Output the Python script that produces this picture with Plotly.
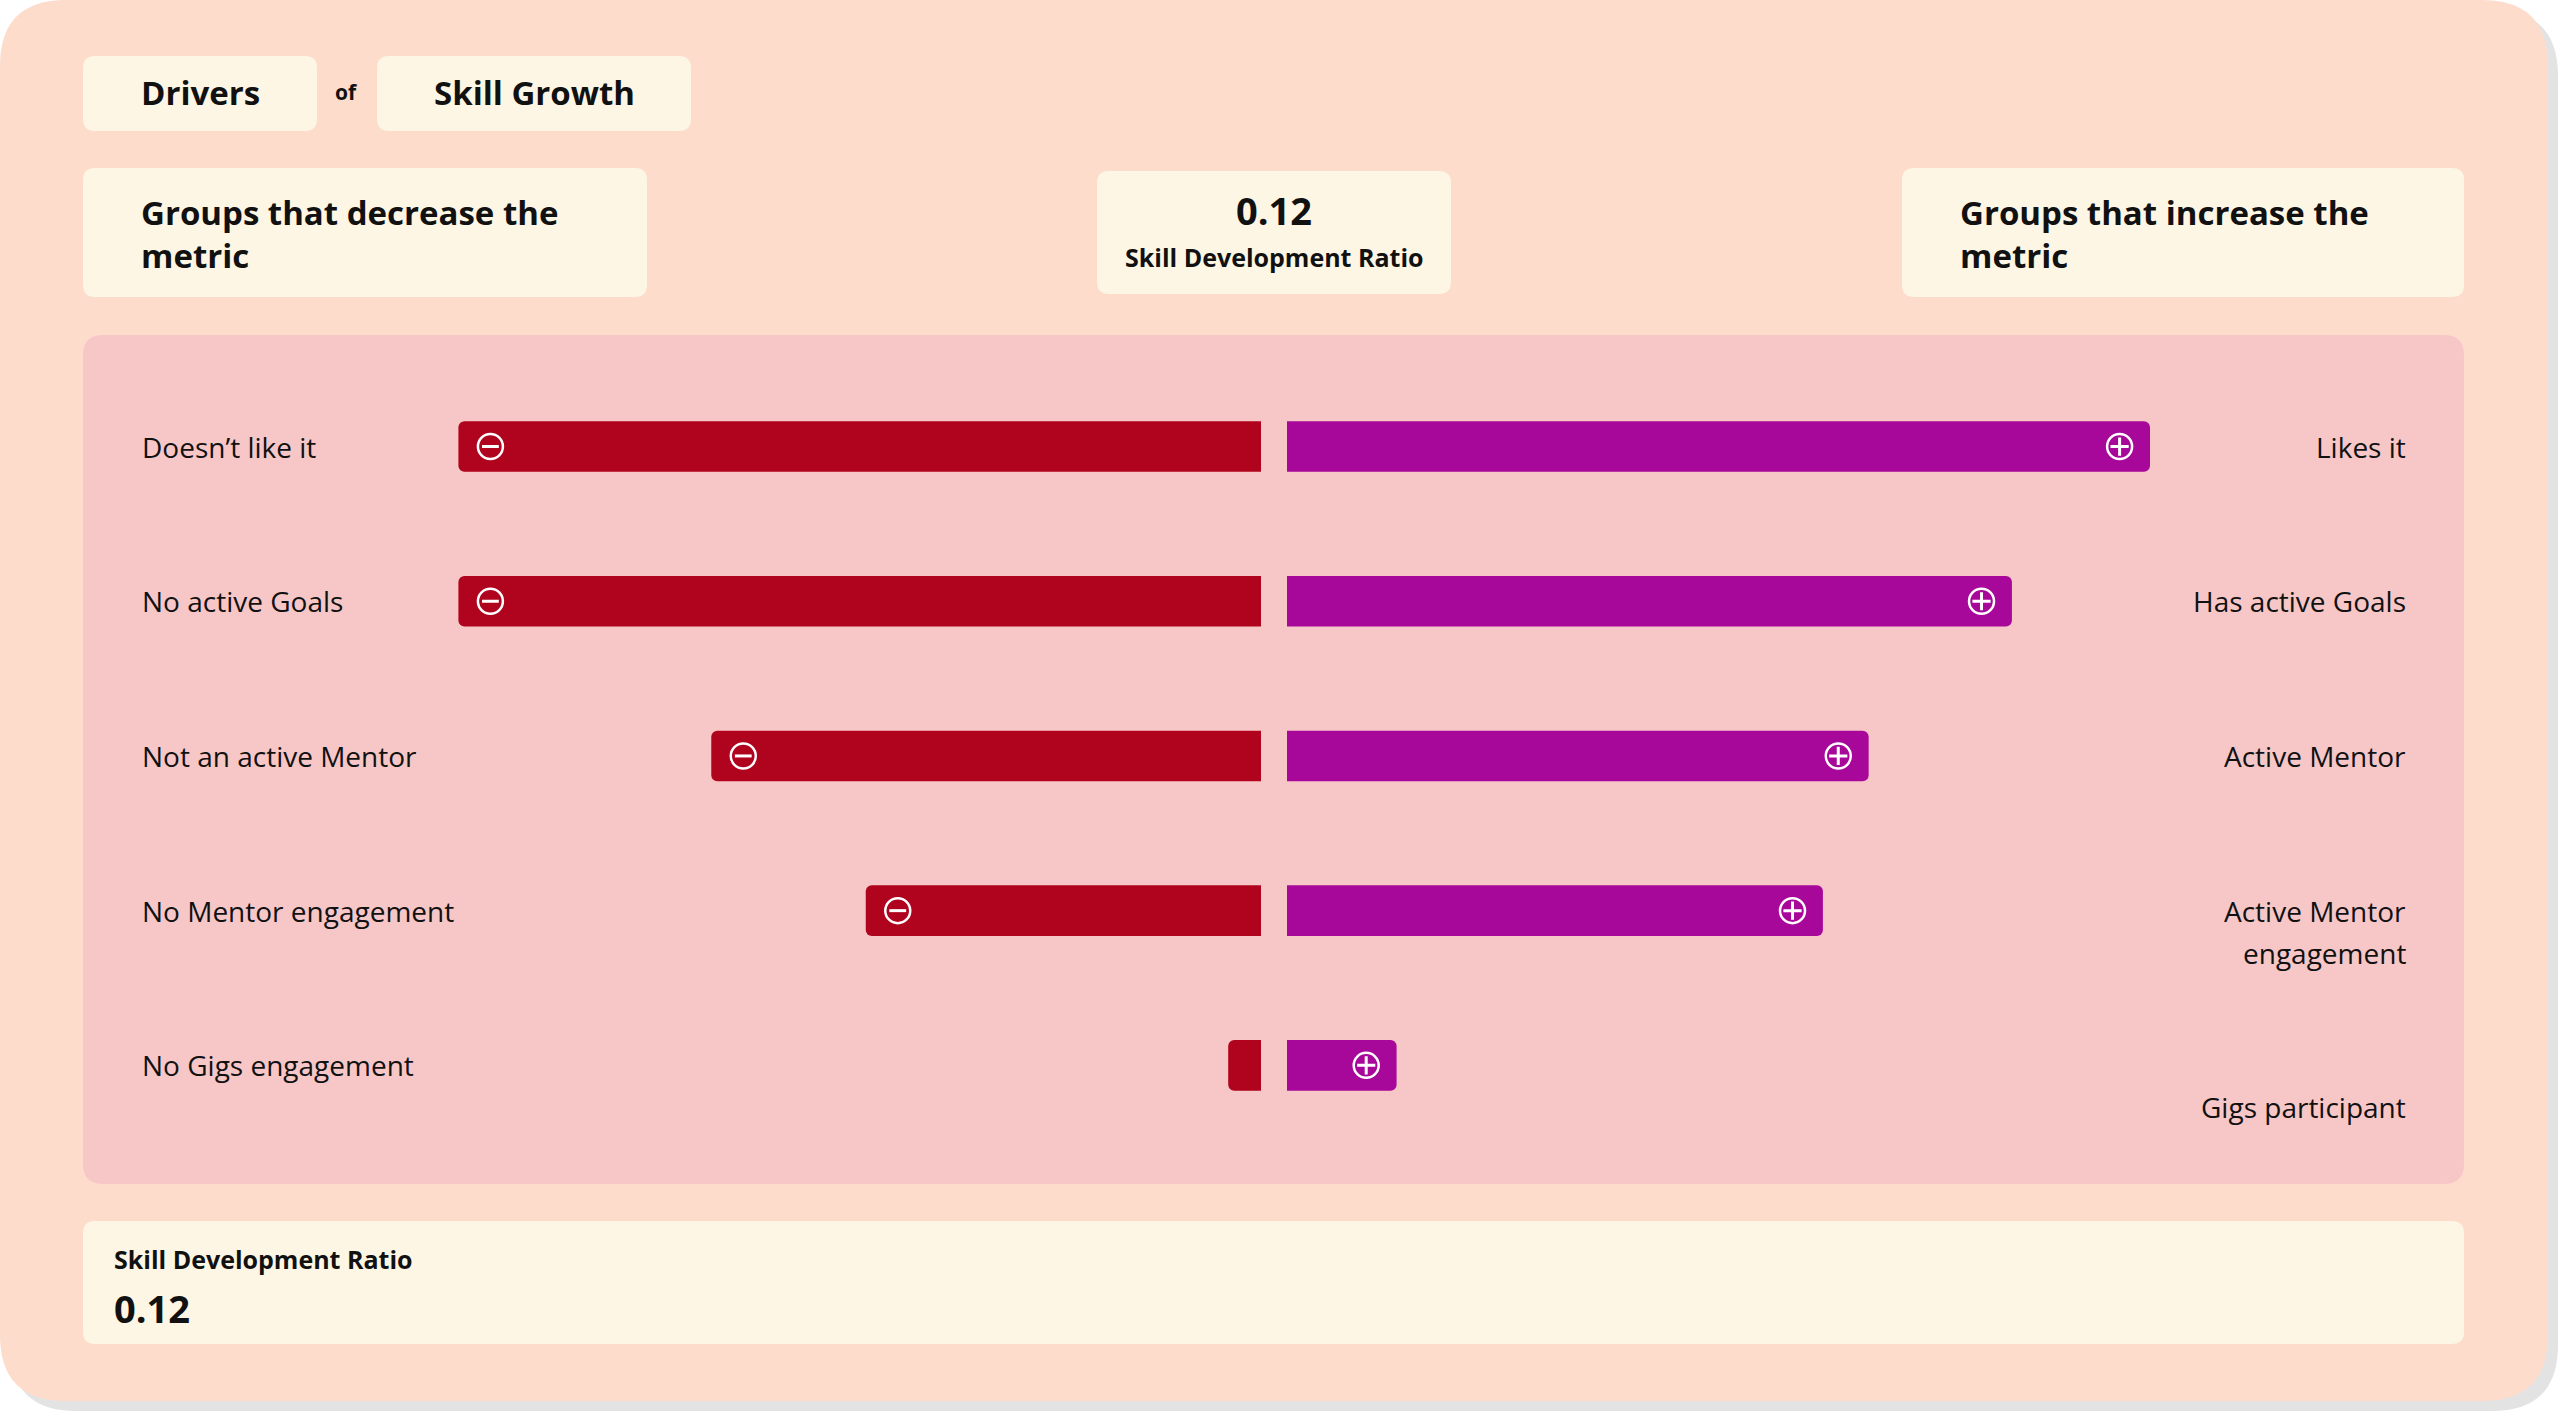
import plotly.graph_objects as go

# ---------------- data ----------------
neg_labels = ["Doesn’t like it", "No active Goals", "Not an active Mentor",
              "No Mentor engagement", "No Gigs engagement"]
pos_labels = ["Likes it", "Has active Goals", "Active Mentor",
              "Active Mentor engagement", "Gigs participant"]
# how the right-hand labels are broken into lines ("" = empty line)
pos_label_lines = [["Likes it"], ["Has active Goals"], ["Active Mentor"],
                   ["Active Mentor", "engagement"], ["", "Gigs participant"]]
neg_values = [93, 93, 63.7, 45.8, 3.8]
pos_values = [100, 84, 67.4, 62.1, 12.7]

title_left = "Drivers"
title_join = "of"
title_right = "Skill Growth"
neg_header = "Groups that decrease the<br>metric"
pos_header = "Groups that increase the<br>metric"
metric_name = "Skill Development Ratio"
metric_value = 0.12

# ---------------- style ----------------
W, H = 2560, 1413
PAGE = "#FFFFFF"
SHADOW = "#E3E3E3"
CARD = "#FDDCCB"
PANEL = "#F7C7C8"
BOX = "#FDF6E4"
RED = "#B0041E"
PURPLE = "#A8089A"
INK = "#111111"
FONT = "Open Sans"

PX_PER_UNIT = 8.63
AX_MAX = 100
MID_L, MID_R = 1261, 1287


def X(px):
    return px / W


def Y(py):
    return 1 - py / H


def rrect(x0, y0, x1, y1, r, color):
    p = (f"M {X(x0 + r)},{Y(y0)} L {X(x1 - r)},{Y(y0)} Q {X(x1)},{Y(y0)} {X(x1)},{Y(y0 + r)} "
         f"L {X(x1)},{Y(y1 - r)} Q {X(x1)},{Y(y1)} {X(x1 - r)},{Y(y1)} "
         f"L {X(x0 + r)},{Y(y1)} Q {X(x0)},{Y(y1)} {X(x0)},{Y(y1 - r)} "
         f"L {X(x0)},{Y(y0 + r)} Q {X(x0)},{Y(y0)} {X(x0 + r)},{Y(y0)} Z")
    return dict(type="path", path=p, xref="paper", yref="paper", fillcolor=color,
                line=dict(width=0), layer="below")


fig = go.Figure()

# bars
fig.add_trace(go.Bar(x=neg_values, y=neg_labels, orientation="h", xaxis="x", yaxis="y",
                     width=0.327, marker=dict(color=RED, cornerradius=6, line=dict(width=0)),
                     hoverinfo="skip", showlegend=False))
fig.add_trace(go.Bar(x=pos_values, y=pos_labels, orientation="h", xaxis="x2", yaxis="y2",
                     width=0.327, marker=dict(color=PURPLE, cornerradius=6, line=dict(width=0)),
                     hoverinfo="skip", showlegend=False))

# icons (circle with minus / plus) near the outer end of each bar
icon_off = 32 / PX_PER_UNIT
neg_icon = [(v - icon_off, l) for v, l in zip(neg_values, neg_labels) if v * PX_PER_UNIT > 70]
pos_icon = [(v - icon_off * 0.95, l) for v, l in zip(pos_values, pos_labels) if v * PX_PER_UNIT > 70]

for pts, xa, ya, inner, isz in [(neg_icon, "x", "y", "line-ew", 12),
                                (pos_icon, "x2", "y2", "cross-thin", 13)]:
    xs = [p[0] for p in pts]
    ys = [p[1] for p in pts]
    fig.add_trace(go.Scatter(x=xs, y=ys, xaxis=xa, yaxis=ya, mode="markers",
                             marker=dict(symbol="circle-open", size=25, color="white",
                                         line=dict(width=2.5, color="white")),
                             hoverinfo="skip", showlegend=False))
    fig.add_trace(go.Scatter(x=xs, y=ys, xaxis=xa, yaxis=ya, mode="markers",
                             marker=dict(symbol=inner, size=isz, color="white",
                                         line=dict(width=3, color="white")),
                             hoverinfo="skip", showlegend=False))

# ---------------- shapes ----------------
shapes = [
    rrect(10, 10, 2558, 1411, 66, SHADOW),
    rrect(0, 0, 2548, 1401, 66, CARD),
    rrect(83, 335, 2464, 1184, 20, PANEL),
    rrect(83, 56, 317, 131, 12, BOX),
    rrect(377, 56, 691, 131, 12, BOX),
    rrect(83, 168, 647, 297, 12, BOX),
    rrect(1097, 171, 1451, 294, 12, BOX),
    rrect(1902, 168, 2464, 297, 12, BOX),
    rrect(83, 1221, 2464, 1344, 12, BOX),
]

ann = []


def text(x, y, s, size, weight=700, xanchor="left", yanchor="middle"):
    ann.append(dict(x=X(x), y=Y(y), xref="paper", yref="paper", text=s, showarrow=False,
                    xanchor=xanchor, yanchor=yanchor, align="left",
                    font=dict(family=FONT, size=size, color=INK, weight=weight)))


text(200, 93, title_left, 33, xanchor="center")
text(346, 92, title_join, 21, xanchor="center")
text(534, 93, title_right, 33, xanchor="center")
text(139, 234, neg_header, 33)
text(1958, 234, pos_header, 33)
text(1274, 210, f"{metric_value:.2f}", 38, xanchor="center")
text(1274, 257, metric_name, 25, xanchor="center")
text(112, 1259, metric_name, 25)
text(112, 1308, f"{metric_value:.2f}", 38)

# row labels
LBL = dict(family=FONT, size=28, color=INK, weight=500)
for lab in neg_labels:
    ann.append(dict(x=X(140), xref="paper", y=lab, yref="y", text=lab, showarrow=False,
                    xanchor="left", yanchor="middle", font=LBL))
for lab, lines in zip(pos_labels, pos_label_lines):
    for i, ln in enumerate(lines):
        if not ln:
            continue
        ann.append(dict(x=X(2408), xref="paper", y=lab, yref="y2", text=ln, showarrow=False,
                        xanchor="right", yanchor="middle", yshift=-42 * i, font=LBL))

ydom = [Y(1142.7), Y(369.2)]
left_w = AX_MAX * PX_PER_UNIT
axis_common = dict(showgrid=False, zeroline=False, showticklabels=False, ticks="",
                   showline=False, fixedrange=True)

fig.update_layout(
    width=W, height=H, margin=dict(l=0, r=0, t=0, b=0),
    paper_bgcolor=PAGE, plot_bgcolor="rgba(0,0,0,0)",
    shapes=shapes, annotations=ann, showlegend=False,
    xaxis=dict(domain=[X(MID_L - left_w), X(MID_L)], range=[AX_MAX, 0], anchor="y", **axis_common),
    xaxis2=dict(domain=[X(MID_R), X(MID_R + left_w)], range=[0, AX_MAX], anchor="y2", **axis_common),
    yaxis=dict(domain=ydom, range=[4.5, -0.5], categoryorder="array", categoryarray=neg_labels,
               anchor="x", **axis_common),
    yaxis2=dict(domain=ydom, range=[4.5, -0.5], categoryorder="array", categoryarray=pos_labels,
                anchor="x2", **axis_common),
    font=dict(family=FONT, color=INK),
)

fig.write_html("out.html", config={"displayModeBar": False},
               post_script="document.body.style.margin='0';document.body.style.overflow='hidden';")
